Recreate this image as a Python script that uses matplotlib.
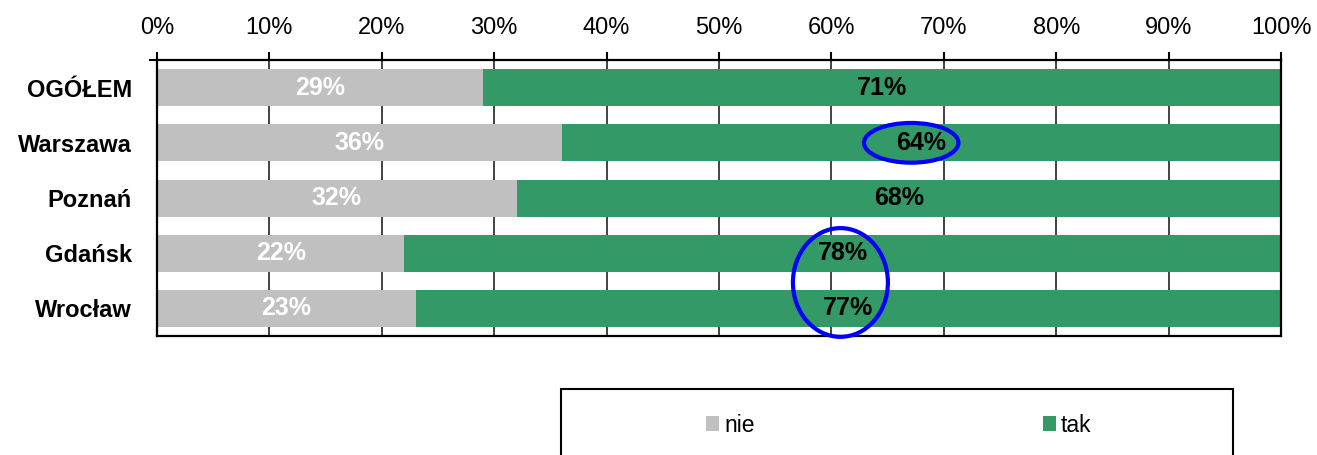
import matplotlib
matplotlib.use("Agg")
import matplotlib.pyplot as plt
from matplotlib.patches import Ellipse, Rectangle

categories = ["OGÓŁEM", "Warszawa", "Poznań", "Gdańsk", "Wrocław"]
nie = [29, 36, 32, 22, 23]
tak = [71, 64, 68, 78, 77]
series_names = ["nie", "tak"]
tick_values = [0, 10, 20, 30, 40, 50, 60, 70, 80, 90, 100]
tick_labels = [f"{v}%" for v in tick_values]

plt.rcParams['font.family'] = ['Liberation Sans', 'DejaVu Sans']

fig = plt.figure(figsize=(13.17, 4.55), dpi=100)
ax = fig.add_axes([0.1192, 0.2615, 0.8535, 0.6066])

y = list(range(len(categories)))
h = 0.67
b1 = ax.barh(y, nie, height=h, color="#C0C0C0", label=series_names[0], zorder=2)
b2 = ax.barh(y, tak, left=nie, height=h, color="#339966", label=series_names[1], zorder=2)

for i in y:
    ax.text(nie[i] / 2, i, f"{nie[i]}%", ha="center", va="center",
            color="white", fontsize=18, fontweight="bold", zorder=3)
    ax.text(nie[i] + tak[i] / 2, i, f"{tak[i]}%", ha="center", va="center",
            color="black", fontsize=18, fontweight="bold", zorder=3)

ax.set_xlim(0, 100)
ax.set_ylim(len(categories) - 0.5, -0.5)
ax.set_xticks(tick_values)
ax.set_xticklabels(tick_labels, fontsize=17)
ax.xaxis.tick_top()
ax.tick_params(axis="x", direction="out", length=6, width=1.5, pad=9, color="black")
ax.set_yticks(y)
ax.set_yticklabels(categories, fontsize=17, fontweight="bold")
ax.tick_params(axis="y", length=0, pad=18)
ax.set_yticks([-0.5], minor=True)
ax.tick_params(axis="y", which="minor", length=6, width=1.5, direction="out")

ax.grid(axis="x", color="#222222", linewidth=1.2, zorder=1)
ax.set_axisbelow(True)
for s in ax.spines.values():
    s.set_linewidth(1.6)
    s.set_color("black")
    s.set_zorder(4)

# blue highlight ellipses
e1 = Ellipse((67.1, 1.0), 8.4, 0.72, fill=False, edgecolor="#0000FF", linewidth=3, zorder=5, clip_on=False)
e2 = Ellipse((60.8, 3.53), 8.45, 1.97, fill=False, edgecolor="#0000FF", linewidth=3, zorder=5, clip_on=False)
ax.add_patch(e1)
ax.add_patch(e2)

# legend frame
fig.patches.append(Rectangle((561 / 1317, -0.1), (1233 - 561) / 1317, 0.1 + (455 - 389) / 455,
                             transform=fig.transFigure, fill=False, edgecolor="black",
                             linewidth=1.5, clip_on=False))
fig.legend(handles=[b1, b2], labels=series_names, loc="center",
           bbox_to_anchor=(899 / 1317, (455 - 425) / 455), ncol=2, frameon=False,
           fontsize=16.5, handlelength=0.55, handleheight=0.65, handletextpad=0.22,
           columnspacing=12.6)

fig.savefig("out.png", dpi=100)
